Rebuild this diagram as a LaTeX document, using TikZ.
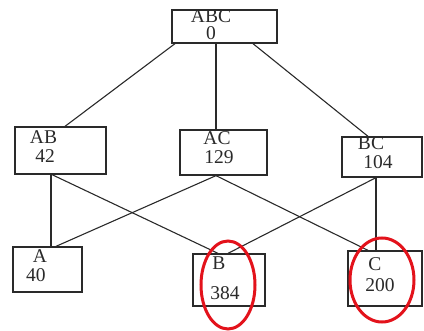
\documentclass[tikz,border=0pt]{standalone}
\usepackage{fontspec}
\setmainfont{Liberation Serif}
\definecolor{markred}{HTML}{E3121B}
\definecolor{inkc}{HTML}{2A2A2A}
\begin{document}
\begin{tikzpicture}[x=1pt,y=-1pt,
  boxst/.style={draw=inkc,line width=1.3pt,inner sep=0pt},
  lbl/.style={anchor=base,inner sep=0pt,text=inkc,font=\fontsize{19.5}{20}\selectfont},
  conn/.style={draw=inkc,line width=1.1pt},
  redmark/.style={draw=markred,line width=3pt}]
\useasboundingbox (0,0) rectangle (424,331);
% boxes
\node[boxst,minimum width=105pt,minimum height=33pt] (ABC) at (224.5,26.5) {};
\node[boxst,minimum width=91pt,minimum height=47pt] (AB) at (60.5,150.5) {};
\node[boxst,minimum width=87pt,minimum height=45pt] (AC) at (223.5,152.5) {};
\node[boxst,minimum width=80pt,minimum height=40pt] (BC) at (382,157) {};
\node[boxst,minimum width=69pt,minimum height=45pt] (A) at (47.5,269.5) {};
\node[boxst,minimum width=72pt,minimum height=52pt] (B) at (229,280) {};
\node[boxst,minimum width=74pt,minimum height=55pt] (C) at (385,278.5) {};
% texts
\node[lbl] (tABC) at (211,22.5) {ABC};
\node[lbl] (nABC) at (211,40) {0};
\node[lbl] (tAB) at (43.5,144) {AB};
\node[lbl] (nAB) at (45,163) {42};
\node[lbl] (tAC) at (217,145) {AC};
\node[lbl] (nAC) at (219,163.5) {129};
\node[lbl] (tBC) at (371,150) {BC};
\node[lbl] (nBC) at (378,169) {104};
\node[lbl] (tA) at (40,263) {A};
\node[lbl] (nA) at (36,282) {40};
\node[lbl] (tB) at (219,270) {B};
\node[lbl] (nB) at (225,300) {384};
\node[lbl] (tC) at (375,271) {C};
\node[lbl] (nC) at (380,292) {200};
% connectors
\draw[conn] ([xshift=-49.5pt]ABC.south) -- ([xshift=4.5pt]AB.north);
\draw[conn] ([xshift=-8.5pt]ABC.south) -- ([xshift=-7.5pt]AC.north);
\draw[conn] ([xshift=28.5pt]ABC.south) -- ([xshift=-14pt]BC.north);
\draw[conn] ([xshift=-9.5pt]AB.south) -- ([xshift=3.5pt]A.north);
\draw[conn] ([xshift=-8.5pt]AB.south) -- ([xshift=-11pt]B.north);
\draw[conn] ([xshift=-7.5pt]AC.south) -- ([xshift=8.5pt]A.north);
\draw[conn] ([xshift=-7.5pt]AC.south) -- ([xshift=-17pt]C.north);
\draw[conn] ([xshift=-6pt]BC.south) -- ([xshift=-1pt]B.north);
\draw[conn] ([xshift=-6pt]BC.south) -- ([xshift=-9pt]C.north);
% red marks
\draw[redmark] (228,285) ellipse [x radius=27pt, y radius=44pt];
\draw[redmark] (382,280) ellipse [x radius=32pt, y radius=42pt];
\end{tikzpicture}
\end{document}
